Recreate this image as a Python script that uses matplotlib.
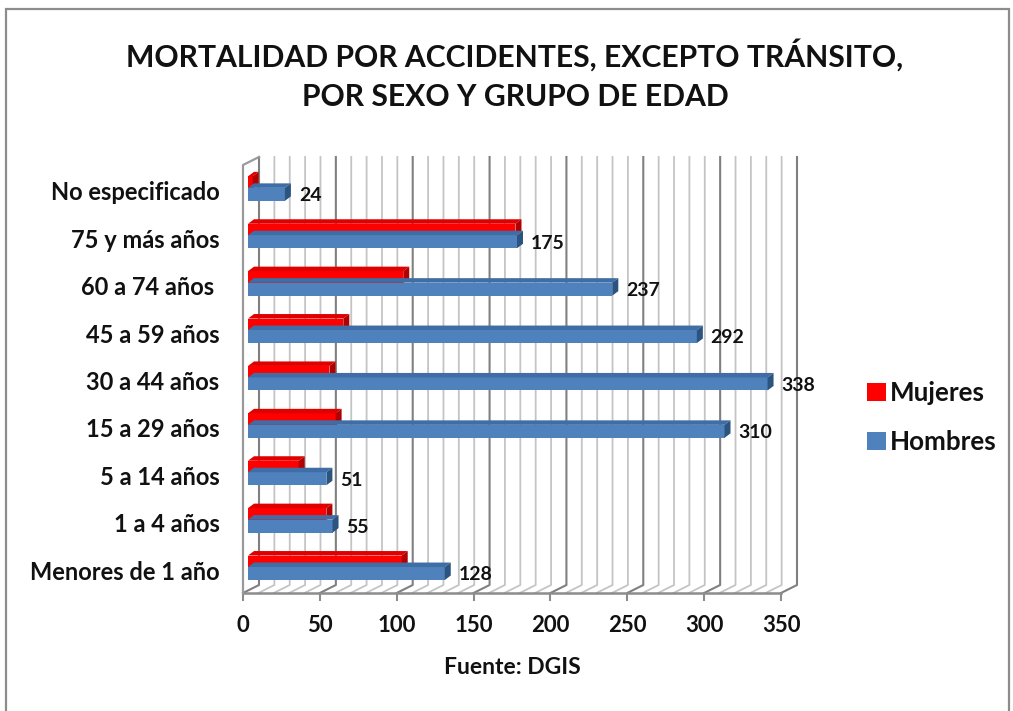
#!/usr/bin/env python

import matplotlib
matplotlib.use("Agg")
import matplotlib.pyplot as plt
from matplotlib.patches import Polygon, Rectangle, Patch
import numpy as np

plt.rcParams["font.family"] = ["Lato", "DejaVu Sans"]

grupos = ["Menores de 1 año", "1 a 4 años", "5 a 14 años", "15 a 29 años", "30 a 44 años",
          "45 a 59 años", "60 a 74 años ", "75 y más años", "No especificado"]
hombres = [128, 55, 51, 310, 338, 292, 237, 175, 24]
mujeres = [100, 51, 33, 57, 53, 62, 101, 174, 3]
xticks = [0, 50, 100, 150, 200, 250, 300, 350]
titulo = "MORTALIDAD POR ACCIDENTES, EXCEPTO TRÁNSITO,\nPOR SEXO Y GRUPO DE EDAD"

W, H = 1013, 711
fig = plt.figure(figsize=(W / 100, H / 100), dpi=100)

# outer frame of the pasted chart, bottom edge falls off the picture
fig.add_artist(Rectangle((6 / W, -0.02), 1003 / W, 1.02 - 9 / H, transform=fig.transFigure,
                         fill=False, ec="#8c8c8c", lw=1.6))

ax = fig.add_axes([243 / W, 1 - 593 / H, 538 / W, 428 / H])
ax.set_xlim(0, 350)
ax.set_ylim(-0.59, 8.44)
for s in ax.spines.values():
    s.set_visible(False)
ax.patch.set_alpha(0)

ux = 350 / 538  # data units per pixel
uy = 9.03 / 428

# fake 3d walls
dx, dy = 16 * ux, 8 * uy
y0, y1 = ax.get_ylim()
for v in np.arange(0, 351, 10):
    c = "#808080" if v % 50 == 0 else "#c4c4c4"
    lw = 1.5 if v % 50 == 0 else 1.3
    ax.plot([v, v + dx, v + dx], [y0, y0 + dy, y1 + dy], color=c, lw=lw, zorder=1, clip_on=False)
ax.plot([0, 350], [y0, y0], color="#8c8c8c", lw=1.8, zorder=2, clip_on=False)
ax.plot([0, 0, dx], [y0, y1, y1 + dy], color="#9a9a9a", lw=1.6, zorder=2, clip_on=False)

ypos = np.arange(len(grupos))
izq = 5 * ux
alto_h = 13 * uy
alto_m = 12 * uy
y_h = ypos - 8.5 * uy
y_m = ypos + 3.5 * uy
sx, sy = 6 * ux, 4.5 * uy


def caja(ys, vals, alto, frente, tapa, lado, z):
    ax.barh(ys, vals, height=alto, left=izq, color=frente, zorder=z, lw=0)
    for y, v in zip(ys, vals):
        t = y + alto / 2
        b = y - alto / 2
        r = izq + v
        ax.add_patch(Polygon([(izq, t), (izq + sx, t + sy), (r + sx, t + sy), (r, t)],
                             fc=tapa, lw=0, zorder=z))
        ax.add_patch(Polygon([(r, t), (r + sx, t + sy), (r + sx, b + sy), (r, b)],
                             fc=lado, lw=0, zorder=z))


caja(y_m, mujeres, alto_m, "#ff0000", "#e00000", "#b00000", 3)
caja(y_h, hombres, alto_h, "#4f81bd", "#3f6ea6", "#2c5480", 4)

for y, v in zip(y_h, hombres):
    ax.annotate(str(v), (izq + v, y), xytext=(10, -1), textcoords="offset points",
                fontsize=14, fontweight="bold", color="#111111", va="center", zorder=5)

ax.set_yticks(ypos - 5 * uy, grupos)
ax.set_xticks(xticks)
ax.tick_params(axis="y", length=0, pad=17, labelsize=17)
ax.tick_params(axis="x", length=6, width=1.5, color="#8c8c8c", pad=10, labelsize=16)
for t in ax.get_xticklabels() + ax.get_yticklabels():
    t.set_fontweight("bold")
    t.set_color("#111111")

fig.text(512 / W, 1 - 667 / H, "Fuente: DGIS", ha="center", va="center",
         fontsize=16.5, fontweight="bold", color="#111111")
fig.text(515 / W, 1 - 75 / H, titulo, ha="center", va="center", fontsize=21.7, fontweight="bold",
         color="#111111", linespacing=1.5)

handles = [Patch(fc="#ff0000", label="Mujeres"), Patch(fc="#4f81bd", label="Hombres")]
fig.legend(handles=handles, loc="center left", bbox_to_anchor=(844 / W, 1 - 417.5 / H), frameon=False,
           handlelength=0.7, handleheight=0.7, handletextpad=0.15, labelspacing=0.98,
           prop={"size": 18.7, "weight": "bold"}, labelcolor="#111111")

fig.savefig("out.png", dpi=100)
plt.close(fig)
